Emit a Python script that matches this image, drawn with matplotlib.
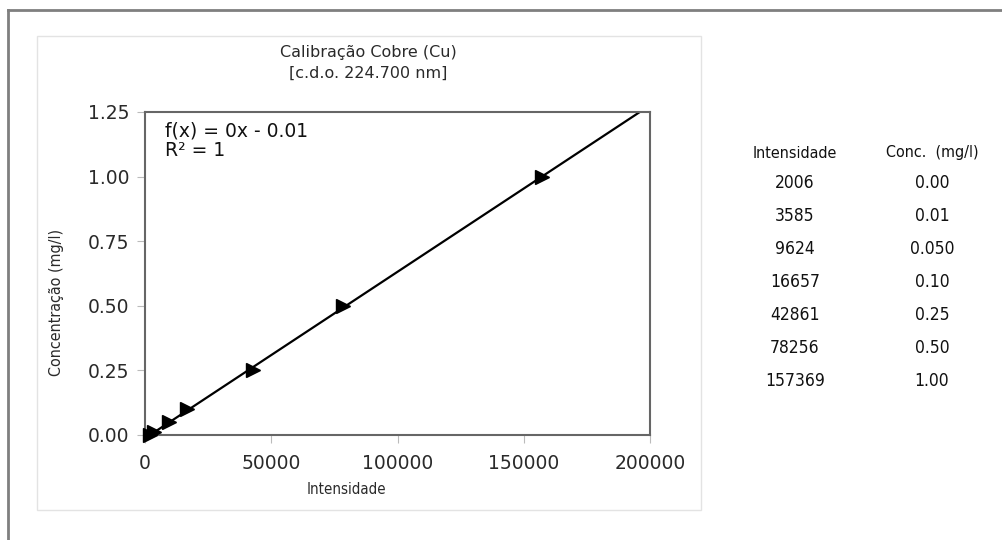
import numpy as np
import matplotlib
matplotlib.use("Agg")
import matplotlib.pyplot as plt
from matplotlib.patches import Rectangle
from matplotlib.lines import Line2D

intensidade = [2006, 3585, 9624, 16657, 42861, 78256, 157369]
conc = [0.00, 0.01, 0.05, 0.10, 0.25, 0.50, 1.00]
conc_labels = ["0.00", "0.01", "0.050", "0.10", "0.25", "0.50", "1.00"]
x_ticks = [0, 50000, 100000, 150000, 200000]
y_ticks = [0.00, 0.25, 0.50, 0.75, 1.00, 1.25]

W, H = 1003, 540
fig = plt.figure(figsize=(W / 100, H / 100), dpi=100)
TXT = "#2a2a2a"

def fx(px):
    return px / W

def fy(py):
    return 1 - py / H

# outer frame (top and left lines)
fig.add_artist(Line2D([fx(8), 1.0], [fy(10), fy(10)], color="#7f7f7f", lw=2.0))
fig.add_artist(Line2D([fx(8), fx(8)], [fy(10), 0.0], color="#7f7f7f", lw=2.0))
# chart area box
fig.add_artist(Rectangle((fx(37), fy(510)), fx(701) - fx(37), fy(36) - fy(510),
                         fill=False, edgecolor="#e3e3e3", lw=1.0))

ax = fig.add_axes([fx(145), fy(435), fx(650) - fx(145), fy(112) - fy(435)])

x = np.array(intensidade, dtype=float)
y = np.array(conc, dtype=float)
slope, intercept = np.polyfit(x, y, 1)
xl = np.array([0, 200000.0])
ax.plot(xl, slope * xl + intercept, color="black", lw=1.6, zorder=2)
ax.plot(x, y, linestyle="none", marker=">", color="black", ms=10, clip_on=False, zorder=3)

ax.set_xlim(0, 200000)
ax.set_ylim(0, 1.25)
ax.set_xticks(x_ticks)
ax.set_xticklabels([str(t) for t in x_ticks])
ax.set_yticks(y_ticks)
ax.set_yticklabels([f"{t:.2f}" for t in y_ticks])
for s in ax.spines.values():
    s.set_color("#666666")
    s.set_linewidth(1.5)
ax.tick_params(axis="both", direction="out", length=6, width=0.8, color="#bbbbbb",
               labelsize=13.5, labelcolor=TXT)
ax.tick_params(axis="x", pad=8)
ax.tick_params(axis="y", pad=5)

ax.text(0.04, 0.97, "f(x) = 0x - 0.01\nR² = 1", transform=ax.transAxes,
        ha="left", va="top", fontsize=13.5, color="#111111", linespacing=1.0)

fig.text(fx(368), fy(52), "Calibração Cobre (Cu)", ha="center", va="center",
         fontsize=11.5, color=TXT)
fig.text(fx(368), fy(73), "[c.d.o. 224.700 nm]", ha="center", va="center",
         fontsize=11.5, color=TXT)
fig.text(fx(346), fy(490), "Intensidade", ha="center", va="center",
         fontsize=10.8, color=TXT, fontstretch="condensed")
fig.text(fx(57), fy(302), "Concentração (mg/l)", ha="center", va="center",
         rotation=90, fontsize=11.5, color=TXT, fontstretch="condensed")

# data table
c1, c2 = fx(795), fx(932)
fig.text(c1, fy(153), "Intensidade", ha="center", va="center", fontsize=11.5,
         color="#111111", fontstretch="condensed")
fig.text(c2, fy(153), "Conc.  (mg/l)", ha="center", va="center", fontsize=11.5,
         color="#111111", fontstretch="condensed")
for i, (iv, cl) in enumerate(zip(intensidade, conc_labels)):
    yy = fy(183 + 33 * i)
    fig.text(c1, yy, str(iv), ha="center", va="center", fontsize=12.5,
             color="#111111", fontstretch="condensed")
    fig.text(c2, yy, cl, ha="center", va="center", fontsize=12.5,
             color="#111111", fontstretch="condensed")

fig.savefig("out.png", dpi=100, facecolor="white")
